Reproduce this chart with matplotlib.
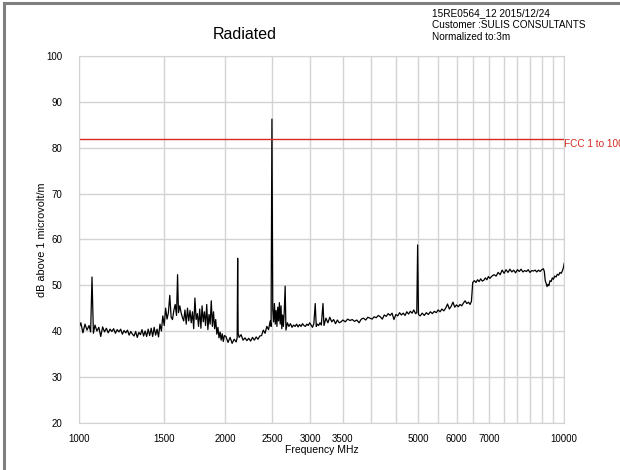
import numpy as np
import matplotlib.pyplot as plt
from matplotlib.lines import Line2D
from matplotlib.ticker import FixedLocator, NullFormatter

plt.rcParams['font.family'] = ['Liberation Sans', 'DejaVu Sans']

freq_a = [1000, 1010, 1020, 1030, 1040, 1050, 1058, 1065, 1072, 1080, 1090, 1100, 1110, 1120,
          1130, 1140, 1150, 1160, 1170, 1180, 1190, 1200, 1210, 1220, 1230, 1240, 1250, 1260,
          1270, 1280, 1290, 1300, 1310, 1320, 1330, 1340, 1350, 1360, 1370, 1380, 1390, 1400,
          1410, 1420, 1430, 1440, 1450, 1460, 1470, 1480, 1490, 1500]
level_a = [40.5, 41.8, 39.6, 41.5, 40.2, 41.2, 39.8, 51.8, 39.5, 41.3, 40.0, 40.8, 38.8, 40.9,
           39.8, 40.6, 39.6, 40.4, 39.9, 40.5, 39.5, 40.3, 39.8, 40.4, 39.3, 40.1, 39.6, 40.2,
           39.1, 39.9, 39.3, 38.9, 39.9, 38.6, 39.7, 39.2, 40.3, 38.9, 40.0, 38.8, 40.4, 39.0,
           40.6, 38.8, 40.8, 39.1, 40.4, 38.7, 41.5, 40.0, 43.3, 41.2]

freq_b = [1510, 1520, 1530, 1540, 1550, 1560, 1570, 1580, 1590, 1598, 1605, 1615, 1625, 1635,
          1645, 1655, 1665, 1675, 1685, 1695, 1705, 1715, 1725, 1735, 1745, 1755, 1765, 1775,
          1785, 1795, 1805, 1815, 1825, 1835, 1845, 1855, 1865, 1875, 1885, 1895, 1905, 1915,
          1925, 1935, 1945, 1955, 1965, 1975, 1985, 1995]
level_b = [45.0, 42.6, 44.0, 47.8, 43.0, 42.5, 44.5, 45.8, 43.4, 52.3, 44.0, 45.5, 44.0, 43.0,
           42.2, 44.6, 41.5, 45.0, 42.2, 44.5, 41.8, 44.2, 40.5, 47.2, 42.5, 43.8, 41.0, 44.8,
           40.6, 45.5, 42.0, 44.2, 41.2, 45.8, 40.3, 43.6, 41.5, 46.6, 41.0, 44.2, 40.5, 42.5,
           39.3, 40.8, 38.5, 39.8, 38.0, 39.4, 37.7, 39.0]

freq_c = [2010, 2030, 2050, 2070, 2090, 2110, 2120, 2125, 2130, 2140, 2160, 2180, 2200, 2220,
          2240, 2260, 2280, 2300, 2320, 2340, 2360, 2380, 2400, 2420, 2440, 2460, 2480, 2490,
          2500, 2510, 2520, 2530, 2540, 2550, 2560, 2570, 2580, 2590, 2600, 2610, 2620, 2630,
          2640, 2650, 2662, 2672, 2690, 2710, 2730, 2750, 2770, 2790, 2810, 2830, 2850, 2870,
          2890, 2910, 2930, 2950, 2970, 2990]
level_c = [38.8, 37.5, 38.6, 37.3, 38.2, 37.6, 38.5, 55.9, 39.5, 38.6, 39.2, 38.0, 38.5, 37.9,
           38.4, 37.8, 38.6, 38.0, 38.7, 38.2, 38.9, 39.0, 40.2, 39.5, 41.0, 40.3, 42.2, 41.0,
           86.3, 44.8, 42.0, 46.0, 41.5, 44.5, 41.0, 45.2, 42.2, 46.2, 41.5, 45.5, 40.5, 43.5,
           41.0, 44.0, 49.8, 40.2, 41.8, 41.0, 41.6, 40.8, 41.3, 41.0, 41.5, 40.9, 41.4, 41.0,
           41.6, 41.2, 41.0, 41.5, 41.2, 41.8]

freq_d = [3010, 3030, 3050, 3070, 3085, 3100, 3120, 3140, 3160, 3185, 3200, 3230, 3260, 3290,
          3320, 3350, 3380, 3410, 3440, 3470, 3500, 3540, 3580, 3620, 3660, 3700, 3740, 3780,
          3820, 3860, 3900, 3940, 3980, 4020, 4060, 4100, 4140, 4180, 4220, 4260, 4300, 4340,
          4380, 4420, 4460, 4500, 4540, 4580, 4620, 4660, 4700, 4740, 4780, 4820, 4860, 4900,
          4940, 4970, 4990, 5010]
level_d = [41.3, 40.8, 41.6, 46.0, 41.0, 41.5, 41.2, 41.8, 41.3, 46.0, 41.2, 42.8, 41.8, 43.0,
           42.0, 42.5, 41.6, 42.4, 41.8, 42.0, 42.4, 42.0, 42.6, 42.3, 42.5, 42.1, 42.4, 41.8,
           42.6, 42.8, 42.4, 43.0, 42.8, 42.6, 43.1, 42.9, 43.4, 43.1, 42.6, 43.5, 43.2, 43.8,
           43.4, 43.9, 42.5, 43.6, 43.3, 44.0, 43.5, 43.9, 43.4, 44.2, 43.7, 44.3, 43.9, 44.6,
           43.8, 44.0, 58.8, 43.6]

freq_e = [5050, 5100, 5150, 5200, 5250, 5300, 5350, 5400, 5450, 5500, 5550, 5600, 5650, 5700,
          5750, 5800, 5850, 5900, 5950, 6000, 6050, 6100, 6150, 6200, 6250, 6300, 6350, 6400,
          6440, 6480, 6530, 6580, 6630, 6680, 6730, 6780, 6830, 6880, 6930, 6980, 7030, 7100,
          7170, 7240, 7310, 7380, 7450, 7520, 7590, 7660, 7730, 7800, 7870, 7940, 8010, 8080,
          8150, 8220, 8290, 8360, 8430, 8500, 8570, 8640, 8710, 8780, 8850, 8920, 8990, 9060,
          9100, 9140, 9180, 9220, 9260, 9300, 9350, 9400, 9450, 9500, 9560, 9620, 9680, 9740,
          9800, 9860, 9920, 9960, 10000]
level_e = [43.3, 43.9, 43.4, 44.0, 43.6, 44.2, 43.8, 44.3, 44.0, 44.6, 44.2, 44.8, 44.4, 45.0,
           45.9, 44.8, 45.4, 46.3, 45.2, 45.7, 45.3, 45.8, 45.5, 46.1, 46.6, 46.0, 46.3, 45.8,
           46.5, 50.6, 51.0, 50.6, 51.2, 50.8, 51.4, 50.9, 51.1, 51.6, 51.2, 51.9, 51.5, 52.0,
           52.3, 52.0, 52.8, 52.3, 53.3, 52.6, 53.4, 52.8, 53.5, 52.9, 53.3, 52.7, 53.4, 53.0,
           53.5, 52.9, 53.2, 53.0, 53.4, 52.8, 53.2, 53.1, 53.3, 52.9, 53.3, 53.0, 53.4, 53.6,
           53.0, 51.0, 50.4, 49.7, 50.2, 49.9, 51.0, 50.8, 51.6, 51.3, 52.0, 51.8, 52.4, 52.2,
           52.8, 52.6, 53.2, 53.8, 54.8]

limit_level = 82
limit_name = "FCC 1 to 10000"
x_labels = [1000, 1500, 2000, 2500, 3000, 3500, 5000, 6000, 7000, 10000]
x_grid = [4000, 4500, 5500, 6500, 7500, 8000, 8500, 9000, 9500]

freq = np.array(freq_a + freq_b + freq_c + freq_d + freq_e)
level = np.array(level_a + level_b + level_c + level_d + level_e)

fig = plt.figure(figsize=(6.2, 4.7), dpi=100)
ax = fig.add_axes([0.127, 0.101, 0.783, 0.779])

ax.plot(freq, level, color='black', lw=0.9)
ax.axhline(limit_level, color='#d42a20', lw=1.0)

ax.set_xscale('log')
ax.set_xlim(1000, 10000)
ax.set_ylim(20, 100)
ax.xaxis.set_major_locator(FixedLocator(x_labels))
ax.xaxis.set_major_formatter(plt.FuncFormatter(lambda v, p: '%d' % v))
ax.xaxis.set_minor_locator(FixedLocator(x_grid))
ax.xaxis.set_minor_formatter(NullFormatter())
ax.set_yticks(range(20, 101, 10))

grid_col = '#d3d3d3'
ax.grid(True, which='both', color=grid_col, lw=1.0)
ax.set_axisbelow(True)
for s in ax.spines.values():
    s.set_color(grid_col)
ax.tick_params(which='both', length=0, labelsize=7)
ax.tick_params(axis='x', pad=8)
ax.tick_params(axis='y', pad=12)

ax.set_xlabel('Frequency MHz', fontsize=7.5, labelpad=1)
ax.set_ylabel('dB above 1 microvolt/m', fontsize=7.8, labelpad=-1)

fig.text(0.394, 0.926, 'Radiated', fontsize=11.5, ha='center', va='center')
fig.text(0.697, 0.972, '15RE0564_12 2015/12/24', fontsize=7.2, va='center')
fig.text(0.697, 0.947, 'Customer :SULIS CONSULTANTS', fontsize=7.2, va='center')
fig.text(0.697, 0.921, 'Normalized to:3m', fontsize=7.2, va='center')
# the limit name runs off the right edge, as in the source screenshot
fig.text(0.909, 0.694, limit_name, fontsize=7.2, color='#d42a20', va='center')

# grey frame on the top and left edges
fig.add_artist(Line2D([0.007, 0.007], [0, 0.993], color='#7f7f7f', lw=2.2))
fig.add_artist(Line2D([0.007, 1], [0.993, 0.993], color='#7f7f7f', lw=2.2))

fig.savefig('out.png', dpi=100)
